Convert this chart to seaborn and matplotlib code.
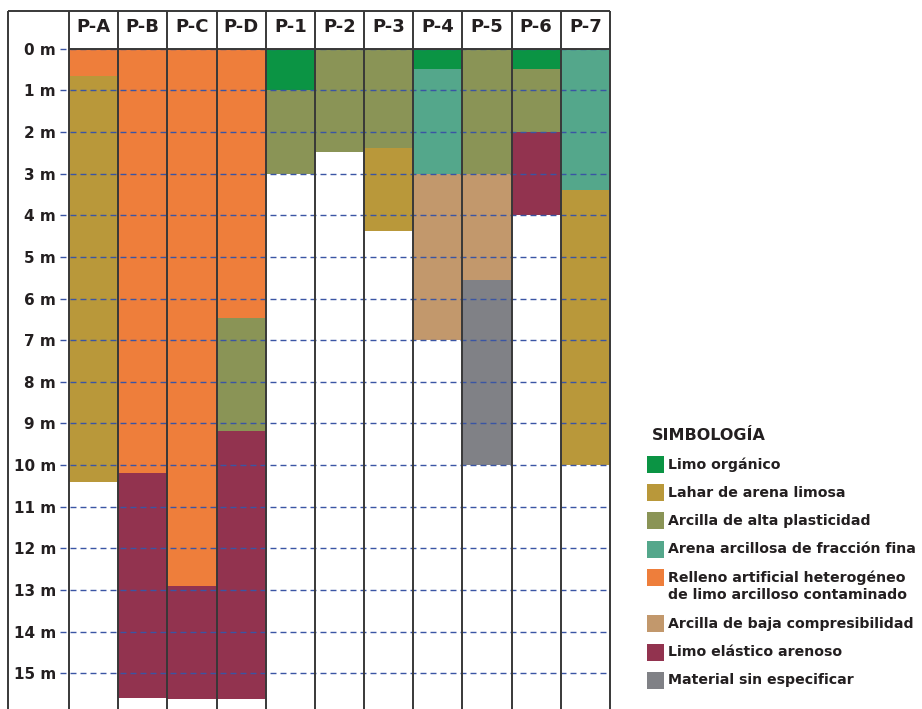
import numpy as np
import matplotlib.pyplot as plt
import matplotlib.patches as mpatches
import pandas as pd
import seaborn as sns

pozos = ["P-A", "P-B", "P-C", "P-D", "P-1", "P-2", "P-3", "P-4", "P-5", "P-6", "P-7"]

materiales = [
    "Limo orgánico",
    "Lahar de arena limosa",
    "Arcilla de alta plasticidad",
    "Arena arcillosa de fracción fina",
    "Relleno artificial heterogéneo\nde limo arcilloso contaminado",
    "Arcilla de baja compresibilidad",
    "Limo elástico arenoso",
    "Material sin especificar",
]
colores = ["#0b9444", "#b9983a", "#8a9456", "#54a78b", "#ee7e3b", "#c2986c", "#92334f", "#808186"]

# capas de cada pozo de arriba hacia abajo: indice del material y profundidad del fondo (m)
capas_material = [
    [4, 1],
    [4, 6],
    [4, 6],
    [4, 2, 6],
    [0, 2],
    [2],
    [2, 1],
    [0, 3, 5],
    [2, 5, 7],
    [0, 2, 6],
    [3, 1],
]
capas_fondo = [
    [0.66, 10.4],
    [10.18, 15.6],
    [12.9, 15.62],
    [6.46, 9.18, 15.62],
    [1.0, 3.0],
    [2.48],
    [2.38, 4.39],
    [0.49, 3.0, 7.0],
    [3.0, 5.55, 10.0],
    [0.49, 2.0, 4.0],
    [3.39, 10.0],
]
profundidades = list(range(16))

texto = "#231f20"
borde = "#383838"
azul = "#3a55a4"

rows = []
for pozo, mats, fondos in zip(pozos, capas_material, capas_fondo):
    for capa, (m, f) in enumerate(zip(mats, fondos)):
        rows.append({"pozo": pozo, "capa": capa, "material": materiales[m], "fondo": f})
df = pd.DataFrame(rows)
paleta = dict(zip(materiales, colores))

sns.set_style("white")
plt.rcParams["font.family"] = ["DejaVu Sans"]

fig = plt.figure(figsize=(9.22, 7.09), dpi=100)
ax = fig.add_axes([69 / 922, 0, 541 / 922, 698 / 709])

# las capas profundas primero, las someras encima
for capa in sorted(df["capa"].unique(), reverse=True):
    sub = df[df["capa"] == capa]
    sns.barplot(
        data=sub, x="pozo", y="fondo", hue="material", palette=paleta,
        order=pozos, dodge=False, width=1, saturation=1, errorbar=None,
        legend=False, linewidth=0, ax=ax,
    )

top, bottom = -0.905, 15.857
col_px = 541 / 11
x_left = -0.5 - 61 / col_px

ax.set_xlim(-0.5, 10.5)
ax.set_ylim(bottom, top)
ax.set(xlabel="", ylabel="")
ax.set_xticks([])
for s in ax.spines.values():
    s.set_visible(False)

ax.set_yticks(profundidades, labels=[f"{d} m" for d in profundidades])
ax.tick_params(axis="y", length=0, pad=9.4, labelsize=11, labelcolor=texto)
for lbl in ax.get_yticklabels():
    lbl.set_fontweight("bold")

ax.hlines(profundidades, -0.5 - 9 / col_px, 10.5, colors=azul, linewidth=1,
          linestyles=(0, (4.3, 2.9)), zorder=3, clip_on=False)
ax.hlines(0, -0.5, 10.5, colors=borde, linewidth=1.4, zorder=4)
ax.vlines(np.arange(-0.5, 11), top, bottom, colors=borde, linewidth=1.4, zorder=4, clip_on=False)
ax.vlines(x_left, top, bottom, colors=borde, linewidth=1.4, zorder=4, clip_on=False)
ax.hlines(top, x_left, 10.5, colors=borde, linewidth=1.4, zorder=4, clip_on=False)

for i, p in enumerate(pozos):
    ax.text(i, -0.51, p, ha="center", va="center", fontsize=13,
            fontweight="bold", color=texto)

# simbologia
fig.text(652 / 922, 1 - 435 / 709, "SIMBOLOGÍA", ha="left", va="center",
         fontsize=11.5, fontweight="bold", color=texto)
y = 464.3
for nombre, color in zip(materiales, colores):
    fig.add_artist(mpatches.Rectangle((647 / 922, 1 - (y + 8.5) / 709), 17 / 922, 17 / 709,
                                      transform=fig.transFigure, color=color, lw=0))
    lineas = nombre.split("\n")
    for k, linea in enumerate(lineas):
        fig.text(667.5 / 922, 1 - (y + 18 * k) / 709, linea, ha="left", va="center",
                 fontsize=10.2, fontweight="bold", color=texto)
    y += 28.3 + 18 * (len(lineas) - 1)

fig.savefig("out.png", dpi=100)
